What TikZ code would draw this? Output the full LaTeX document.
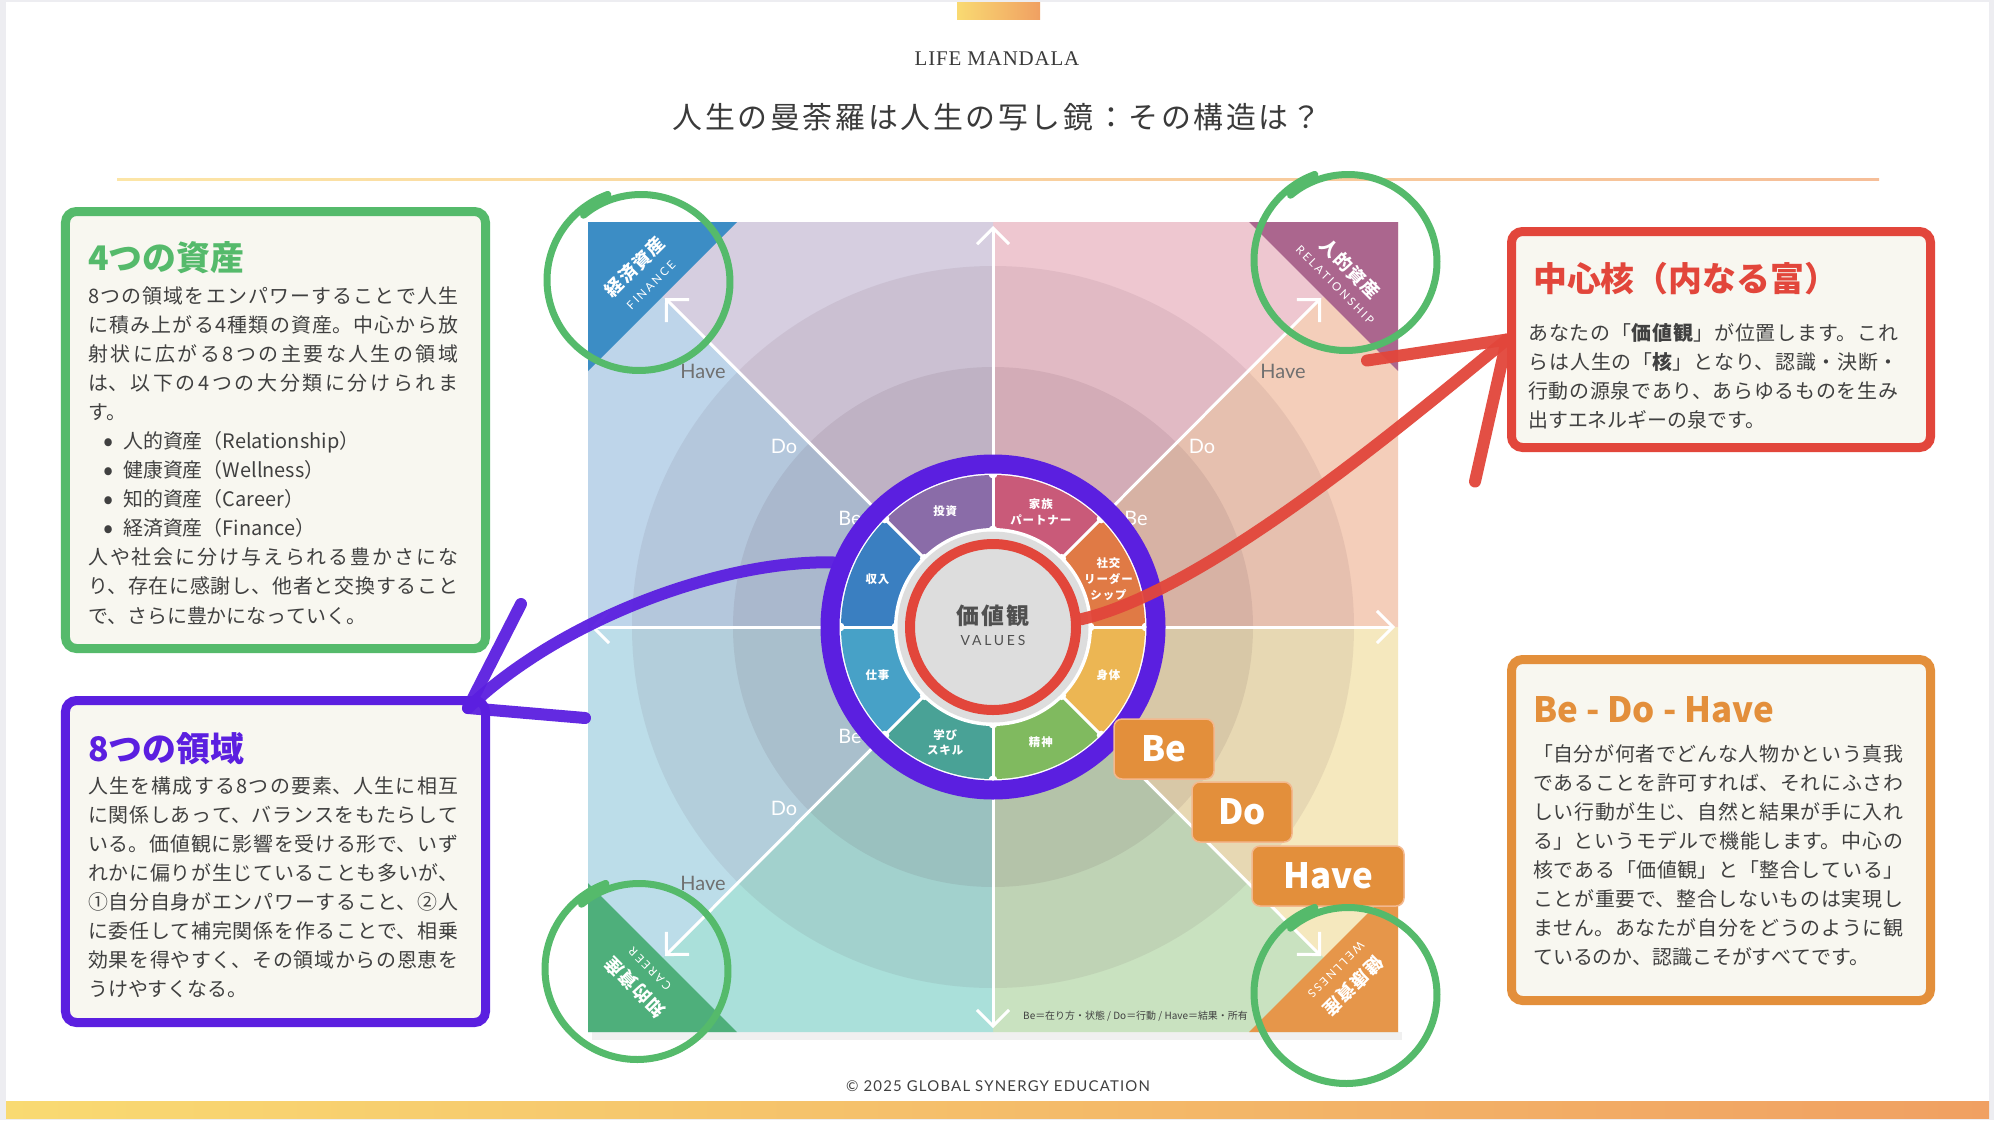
\documentclass[tikz,border=0pt]{standalone}
\usepackage{fontspec}
\setmainfont{Noto Sans CJK JP}
\newfontfamily\serifhead[LetterSpace=4]{Liberation Serif}
\newfontfamily\jptitle[LetterSpace=9]{Noto Sans CJK JP}
\newfontfamily\jpwide[LetterSpace=8]{Noto Sans CJK JP}
\newfontfamily\latin{Lato}
\newfontfamily\latinwide[LetterSpace=20]{Lato}
\newfontfamily\latincopy[LetterSpace=8]{Lato}
\usetikzlibrary{arrows.meta}

\XeTeXlinebreaklocale "ja"
\XeTeXlinebreakskip=0pt plus 3pt
\tolerance=10000
\setlength{\parindent}{0pt}

\definecolor{pagegray}{HTML}{EDEDF1}
\definecolor{cream}{HTML}{F8F7F0}
\definecolor{ink}{HTML}{404040}
\definecolor{headgray}{HTML}{3A3A3A}
\definecolor{assetgreen}{HTML}{55BA6B}
\definecolor{ringpurple}{HTML}{5B1FE0}
\definecolor{corered}{HTML}{E2463B}
\definecolor{bdhorange}{HTML}{E38F3B}
\definecolor{bdhedge}{HTML}{F3B88E}
\definecolor{secLav}{HTML}{D6CEE0}
\definecolor{secBlue}{HTML}{BED5EA}
\definecolor{secSky}{HTML}{BCDDE9}
\definecolor{secAqua}{HTML}{AAE0DA}
\definecolor{secMint}{HTML}{C9E2C0}
\definecolor{secCream}{HTML}{F5E8BE}
\definecolor{secPeach}{HTML}{F4CEBA}
\definecolor{secPink}{HTML}{EEC7D0}
\definecolor{ringshade}{HTML}{4A2838}
\definecolor{cornerBlue}{HTML}{3C8DC5}
\definecolor{cornerMauve}{HTML}{AB668E}
\definecolor{cornerGreen}{HTML}{4EAF7B}
\definecolor{cornerOrange}{HTML}{E6964A}
\definecolor{segViolet}{HTML}{8A6CA8}
\definecolor{segRose}{HTML}{C95A79}
\definecolor{segOrange}{HTML}{E07A45}
\definecolor{segYellow}{HTML}{ECB653}
\definecolor{segGreen}{HTML}{80BA5F}
\definecolor{segTeal}{HTML}{49A296}
\definecolor{segSky}{HTML}{47A1C7}
\definecolor{segBlue}{HTML}{3A7FC1}
\definecolor{coregray}{HTML}{DDDDDD}
\definecolor{valuegray}{HTML}{505050}
\definecolor{havegray}{HTML}{707070}
\definecolor{barYellow}{HTML}{F9DA72}
\definecolor{barOrange}{HTML}{F0A062}
\definecolor{ruleYellow}{HTML}{FCE5A6}
\definecolor{ruleOrange}{HTML}{F6BE98}

\newcommand*{\ctrx}{993}
\newcommand*{\ctry}{627}
\newcommand*{\dotitem}{\hspace*{15bp}\makebox[20bp][l]{\raisebox{-3bp}{\fontsize{30}{20}\selectfont\textbullet}}}

\begin{document}
\begin{tikzpicture}
[
	x=1bp, y=-1bp,
	panel/.style={draw, line width=9bp, rounded corners=11bp, fill=cream, inner sep=0pt},
	paneltitle/.style={anchor=base west, inner sep=0pt, font=\fontsize{34}{40}\selectfont\bfseries},
	panelbody/.style={anchor=base west, inner sep=0pt, text width=370bp, align=justify, text=ink, font=\fontsize{20}{29.2}\selectfont},
	axisarrow/.style={white, line width=3bp, -{Straight Barb[length=16bp,width=32bp]}},
	ringlabel/.style={inner sep=0pt, font=\latin\fontsize{20}{24}\selectfont},
	seglabel/.style={white, align=center, inner sep=0pt, font=\jpwide\fontsize{11.5}{16}\selectfont\bfseries},
	cornerjp/.style={white, inner sep=0pt, font=\jpwide\fontsize{18}{21}\selectfont\bfseries},
	corneren/.style={white, inner sep=0pt, font=\latinwide\fontsize{11.5}{13}\selectfont},
	stepbox/.style={draw=bdhedge, line width=1.5bp, fill=bdhorange, rounded corners=8bp, text=white, inner sep=0pt, minimum height=60bp, font=\fontsize{35}{40}\selectfont\bfseries},
	greenloop/.style={assetgreen, line width=7bp, line cap=round},
	handline/.style={line width=12bp, line cap=round, line join=round, opacity=.95}
]

	\useasboundingbox (0,0) rectangle (1994,1120);

	% page
	\fill[pagegray] (0,0) rectangle (1994,1120);
	\fill[white] (6,2) rectangle (1989,1118);
	\shade[left color=barYellow, right color=barOrange] (6,1101) rectangle (1989,1118);
	\shade[left color=barYellow, right color=barOrange] (957,2) rectangle (1040,19);
	\shade[left color=ruleYellow, right color=ruleOrange] (117,178) rectangle (1879,180.5);

	% header
	\node[anchor=base, inner sep=0pt, text=headgray, font=\serifhead\fontsize{21}{24}\selectfont] (head) at (997,65) {LIFE MANDALA};
	\node[anchor=base, inner sep=0pt, text=headgray, font=\jptitle\fontsize{30}{34}\selectfont] (subhead) at (997,128) {人生の曼荼羅は人生の写し鏡：その構造は？};

	% sectors
	\fill[gray!12] (592,1032) rectangle (1402,1040);
	\fill[secPink]  (\ctrx,\ctry) -- (993,222) -- (1398,222) -- cycle;
	\fill[secPeach] (\ctrx,\ctry) -- (1398,222) -- (1398,627) -- cycle;
	\fill[secCream] (\ctrx,\ctry) -- (1398,627) -- (1398,1032) -- cycle;
	\fill[secMint]  (\ctrx,\ctry) -- (1398,1032) -- (993,1032) -- cycle;
	\fill[secAqua]  (\ctrx,\ctry) -- (993,1032) -- (588,1032) -- cycle;
	\fill[secSky]   (\ctrx,\ctry) -- (588,1032) -- (588,627) -- cycle;
	\fill[secBlue]  (\ctrx,\ctry) -- (588,627) -- (588,222) -- cycle;
	\fill[secLav]   (\ctrx,\ctry) -- (588,222) -- (993,222) -- cycle;

	% rings
	\fill[ringshade, opacity=.08] (\ctrx,\ctry) circle[radius=361];
	\fill[ringshade, opacity=.09] (\ctrx,\ctry) circle[radius=260];

	% corners
	\fill[cornerBlue]   (588,222) -- (737,222) -- (588,371) -- cycle;
	\fill[cornerMauve]  (1398,222) -- (1249,222) -- (1398,371) -- cycle;
	\fill[cornerGreen]  (588,1032) -- (737,1032) -- (588,883) -- cycle;
	\fill[cornerOrange] (1398,1032) -- (1249,1032) -- (1398,883) -- cycle;
	\node[cornerjp, rotate=45] (finjp) at (635,267) {経済資産};
	\node[corneren, rotate=45] (finen) at (651,285) {FINANCE};
	\node[cornerjp, rotate=-45] (reljp) at (1350,269) {人的資産};
	\node[corneren, rotate=-45] (relen) at (1335,285) {RELATIONSHIP};
	\node[cornerjp, rotate=135] (carjp) at (635,987) {知的資産};
	\node[corneren, rotate=135] (caren) at (650,969) {CAREER};
	\node[cornerjp, rotate=-135] (weljp) at (1353,986) {健康資産};
	\node[corneren, rotate=-135] (welen) at (1336,970) {WELLNESS};

	% axes
	\draw[axisarrow] (\ctrx,\ctry) -- (993,226);
	\draw[axisarrow] (\ctrx,\ctry) -- (993,1028);
	\draw[axisarrow] (\ctrx,\ctry) -- (591,627);
	\draw[axisarrow] (\ctrx,\ctry) -- (1395,627);
	\draw[axisarrow] (\ctrx,\ctry) -- (665,298);
	\draw[axisarrow] (\ctrx,\ctry) -- (1321,298);
	\draw[axisarrow] (\ctrx,\ctry) -- (665,956);
	\draw[axisarrow] (\ctrx,\ctry) -- (1321,956);

	% be do have along the diagonals
	\node[ringlabel, white] (tlbe) at (850,518) {Be};
	\node[ringlabel, white] (tldo) at (784,446) {Do};
	\node[ringlabel, havegray] (tlhave) at (703,371) {Have};
	\node[ringlabel, white] (trbe) at (1136,518) {Be};
	\node[ringlabel, white] (trdo) at (1202,446) {Do};
	\node[ringlabel, havegray] (trhave) at (1283,371) {Have};
	\node[ringlabel, white] (blbe) at (850,736) {Be};
	\node[ringlabel, white] (bldo) at (784,808) {Do};
	\node[ringlabel, havegray] (blhave) at (703,883) {Have};

	% wheel
	\fill[white] (\ctrx,\ctry) circle[radius=155];
	\begin{scope}[shift={(\ctrx,\ctry)}]
		\foreach \a/\col/\txt/\nm in {0/segOrange/{社交\\リーダー\\シップ}/social, 45/segRose/{家族\\パートナー}/family, 90/segViolet/{投資}/invest, 135/segBlue/{収入}/income, 180/segSky/{仕事}/work, 225/segTeal/{学び\\スキル}/learn, 270/segGreen/{精神}/mind, 315/segYellow/{身体}/body}
		{
			\fill[\col] (-\a:152) arc[start angle=-\a, end angle=-\a-45, radius=152] -- (-\a-45:98) arc[start angle=-\a-45, end angle=-\a, radius=98] -- cycle;
			\node[seglabel] (\nm) at (-\a-22.5:125) {\txt};
		}
		\foreach \a in {0,45,...,315}
		{
			\draw[white, line width=3bp] (-\a:97) -- (-\a:153);
			\fill[white] (-\a:97) circle[radius=4.5];
			\fill[white] (-\a:153) circle[radius=4.5];
		}
		\fill[white] (0,0) circle[radius=99];
		\fill[coregray] (0,0) circle[radius=95.5];
	\end{scope}
	\node[circle, draw=ringpurple, line width=19bp, minimum size=326bp, inner sep=0pt] (wheel) at (\ctrx,\ctry) {};
	\node[circle, draw=corered, fill=coregray, line width=10bp, minimum size=166bp, inner sep=0pt] (values) at (\ctrx,\ctry) {};
	\node[text=valuegray, inner sep=0pt, font=\jpwide\fontsize{23}{26}\selectfont\bfseries] (valuesjp) at ([yshift=11bp]values.center) {価値観};
	\node[text=valuegray, inner sep=0pt, font=\latinwide\fontsize{14}{16}\selectfont] (valuesen) at ([yshift=-13bp]values.center) {VALUES};

	% be do have steps
	\node[stepbox, minimum width=100bp] (stepbe) at (1164,749) {Be};
	\node[stepbox, minimum width=100bp] (stepdo) at (1242,812) {Do};
	\node[stepbox, minimum width=152bp] (stephave) at (1328,876) {Have};
	\node[anchor=base west, inner sep=0pt, text=ink, font=\fontsize{10}{12}\selectfont] (legend) at (1023,1019) {Be＝在り方・状態 / Do＝行動 / Have＝結果・所有};

	% hand drawn loops
	\foreach \lx/\ly in {640/281, 1347/261, 638/970, 1347/994}
		\draw[greenloop] plot[domain=230:610, samples=60, smooth] ({\lx+(84+\x/60)*cos(\x)}, {\ly+(82+\x/60)*sin(\x)});

	% panels
	\node[panel, draw=assetgreen, minimum width=420bp, minimum height=437bp] (greenbox) at (275.5,430) {};
	\node[paneltitle, text=assetgreen] (greentitle) at ([shift={(27,63)}]greenbox.north west) {4つの資産};
	\node[panelbody] (greentext) at ([shift={(27,96)}]greenbox.north west) {%
		8つの領域をエンパワーすることで人生\linebreak
		に積み上がる4種類の資産。中心から放\linebreak
		射状に広がる8つの主要な人生の領域\linebreak
		は、以下の4つの大分類に分けられま\linebreak
		す。\\
		\dotitem 人的資産（Relationship）\\
		\dotitem 健康資産（Wellness）\\
		\dotitem 知的資産（Career）\\
		\dotitem 経済資産（Finance）\\
		人や社会に分け与えられる豊かさにな\linebreak
		り、存在に感謝し、他者と交換すること\linebreak
		で、さらに豊かになっていく。};

	\node[panel, draw=ringpurple, minimum width=420bp, minimum height=322bp] (purplebox) at (275.5,861.5) {};
	\node[paneltitle, text=ringpurple] (purpletitle) at ([shift={(27,65)}]purplebox.north west) {8つの領域};
	\node[panelbody] (purpletext) at ([shift={(27,97)}]purplebox.north west) {%
		人生を構成する8つの要素、人生に相互\linebreak
		に関係しあって、バランスをもたらして\linebreak
		いる。価値観に影響を受ける形で、いず\linebreak
		れかに偏りが生じていることも多いが、\linebreak
		①自分自身がエンパワーすること、②人\linebreak
		に委任して補完関係を作ることで、相乗\linebreak
		効果を得やすく、その領域からの恩恵を\linebreak
		うけやすくなる。};

	\node[panel, draw=corered, minimum width=419bp, minimum height=216bp] (redbox) at (1721,339.5) {};
	\node[paneltitle, text=corered] (redtitle) at ([shift={(26,64)}]redbox.north west) {中心核（内なる富）};
	\node[panelbody] (redtext) at ([shift={(21,113)}]redbox.north west) {%
		あなたの「\textbf{価値観}」が位置します。これ\linebreak
		らは人生の「\textbf{核}」となり、認識・決断・\linebreak
		行動の源泉であり、あらゆるものを生み\linebreak
		出すエネルギーの泉です。};

	\node[panel, draw=bdhorange, minimum width=419bp, minimum height=341bp] (orangebox) at (1721,830) {};
	\node[paneltitle, text=bdhorange, font=\fontsize{35}{40}\selectfont\bfseries] (orangetitle) at ([shift={(26,67)}]orangebox.north west) {Be - Do - Have};
	\node[panelbody] (orangetext) at ([shift={(26,106)}]orangebox.north west) {%
		「自分が何者でどんな人物かという真我\linebreak
		であることを許可すれば、それにふさわ\linebreak
		しい行動が生じ、自然と結果が手に入れ\linebreak
		る」というモデルで機能します。中心の\linebreak
		核である「価値観」と「整合している」\linebreak
		ことが重要で、整合しないものは実現し\linebreak
		ません。あなたが自分をどうのように観\linebreak
		ているのか、認識こそがすべてです。};

	% hand drawn arrows
	\coordinate (ptip) at ([shift={(-22,12)}]purplebox.north east);
	\draw[handline, corered] (values.5) .. controls (1210,590) and (1420,410) .. (redbox.west);
	\draw[handline, corered] ([shift={(-140,21)}]redbox.west) -- (redbox.west) -- ([shift={(-32,142)}]redbox.west);
	\draw[handline, ringpurple] (wheel.158) .. controls (720,560) and (560,620) .. (ptip);
	\draw[handline, ringpurple] ([shift={(53,-104)}]ptip) -- (ptip) -- ([shift={(117,10)}]ptip);

	% footer
	\node[anchor=base, inner sep=0pt, text=ink, font=\latincopy\fontsize{15}{18}\selectfont] (copyright) at (998,1091) {© 2025 GLOBAL SYNERGY EDUCATION};

\end{tikzpicture}
\end{document}
